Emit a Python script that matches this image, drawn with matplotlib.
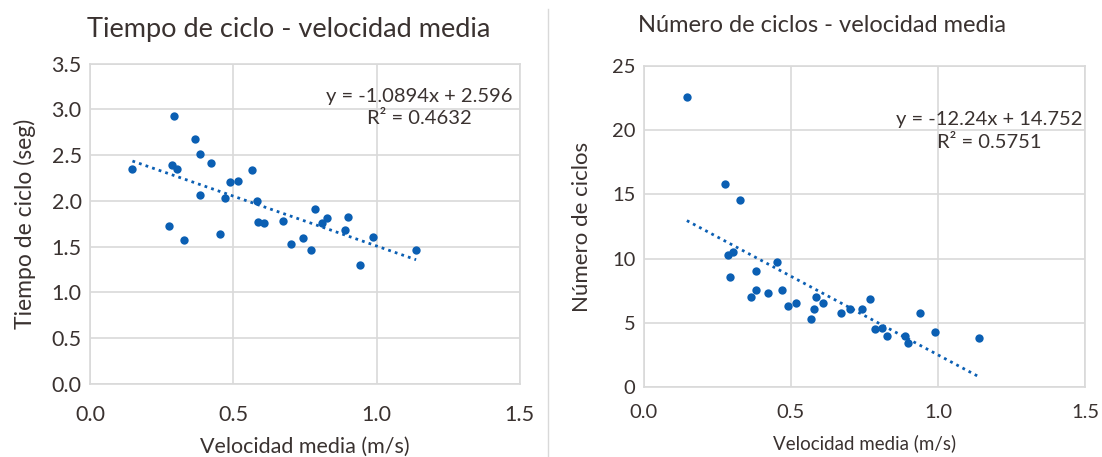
import numpy as np
import matplotlib.pyplot as plt

plt.rcParams['font.family'] = ['Lato', 'DejaVu Sans']

# velocidad media (m/s) vs tiempo de ciclo (seg)
vel_a = [0.148, 0.293, 0.287, 0.305, 0.276, 0.328, 0.367, 0.385, 0.385, 0.422,
         0.453, 0.472, 0.489, 0.517, 0.567, 0.581, 0.585, 0.608, 0.673, 0.703,
         0.745, 0.771, 0.785, 0.808, 0.826, 0.889, 0.899, 0.942, 0.988, 1.138]
tiempo = [2.35, 2.93, 2.39, 2.345, 1.72, 1.57, 2.67, 2.51, 2.06, 2.41,
          1.64, 2.03, 2.21, 2.22, 2.34, 2.00, 1.77, 1.76, 1.78, 1.53,
          1.59, 1.46, 1.91, 1.76, 1.81, 1.68, 1.82, 1.30, 1.61, 1.46]

# velocidad media (m/s) vs numero de ciclos
vel_b = [0.147, 0.276, 0.328, 0.285, 0.302, 0.292, 0.453, 0.383, 0.365, 0.383,
         0.421, 0.470, 0.490, 0.517, 0.567, 0.579, 0.587, 0.608, 0.671, 0.701,
         0.742, 0.770, 0.785, 0.809, 0.827, 0.889, 0.899, 0.940, 0.988, 1.140]
ciclos = [22.58, 15.82, 14.55, 10.28, 10.54, 8.57, 9.76, 9.01, 7.04, 7.54,
          7.30, 7.54, 6.29, 6.53, 5.31, 6.08, 7.04, 6.53, 5.77, 6.11,
          6.08, 6.84, 4.55, 4.58, 4.01, 4.01, 3.47, 5.75, 4.27, 3.81]

# trendline coefficients as shown in the chart
trend_a = (-1.0894, 2.596)
trend_b = (-12.24, 14.752)
r2_a = 0.4632
r2_b = 0.5751

blue = '#0b5fb3'
txt = '#3a3230'
grid = '#d9d9d9'

fig = plt.figure(figsize=(11.02, 4.57), dpi=100)
ax1 = fig.add_axes([0.0817, 0.160, 0.390, 0.701])
ax2 = fig.add_axes([0.584, 0.1525, 0.401, 0.704])


def style(ax, ylim, yticks, ylabel, tsize, xpad, xlab_size, ylab_size, lab_pos):
    ax.set_xlim(0, 1.5)
    ax.set_ylim(*ylim)
    ax.set_xticks([0, 0.5, 1.0, 1.5])
    ax.set_xticklabels(['0.0', '0.5', '1.0', '1.5'])
    ax.set_yticks(yticks)
    ax.grid(True, color=grid, linewidth=1.2)
    ax.set_axisbelow(True)
    for s in ax.spines.values():
        s.set_color(grid)
        s.set_linewidth(1.2)
    ax.tick_params(length=0, labelsize=tsize, colors=txt, pad=6)
    ax.tick_params(axis='x', pad=xpad)
    ax.set_xlabel('Velocidad media (m/s)', fontsize=xlab_size, color=txt)
    ax.set_ylabel(ylabel, fontsize=ylab_size, color=txt)
    ax.xaxis.set_label_coords(0.5, lab_pos[1])
    ax.yaxis.set_label_coords(lab_pos[0], 0.5)
    ax.xaxis.label.set_va('center')
    ax.yaxis.label.set_va('center')


style(ax1, (0, 3.5), np.arange(0, 3.51, 0.5), 'Tiempo de ciclo (seg)',
      15.5, 15, 15.5, 16.5, (-0.151, -0.197))
ax1.set_yticklabels([f'{v:.1f}' for v in np.arange(0, 3.51, 0.5)])
style(ax2, (0, 25), np.arange(0, 26, 5), 'Número de ciclos',
      14.5, 12, 13.5, 16, (-0.140, -0.173))

fig.text(289 / 1102, 1 - 30 / 457, 'Tiempo de ciclo - velocidad media',
         ha='center', va='center', fontsize=19.5, color=txt)
fig.text(822 / 1102, 1 - 25 / 457, 'Número de ciclos - velocidad media',
         ha='center', va='center', fontsize=17, color=txt)

for ax, x, y, (m, b), r2, pos in [
        (ax1, vel_a, tiempo, trend_a, r2_a, (0.767, 0.924)),
        (ax2, vel_b, ciclos, trend_b, r2_b, (0.783, 0.859))]:
    ax.scatter(x, y, s=36, color=blue, zorder=3, linewidths=0)
    xx = np.array([min(x), max(x)])
    ax.plot(xx, m * xx + b, linestyle=(0, (1, 1.5)), color=blue, linewidth=2)
    ax.text(pos[0], pos[1], f'y = {m}x + {b}\nR² = {r2}', transform=ax.transAxes,
            ha='center', va='top', fontsize=14.5, color=txt, linespacing=1.4,
            multialignment='center')

fig.add_artist(plt.Line2D([0.497, 0.497], [0.0, 0.98], color=grid, linewidth=1))

fig.savefig('out.png', dpi=100)
